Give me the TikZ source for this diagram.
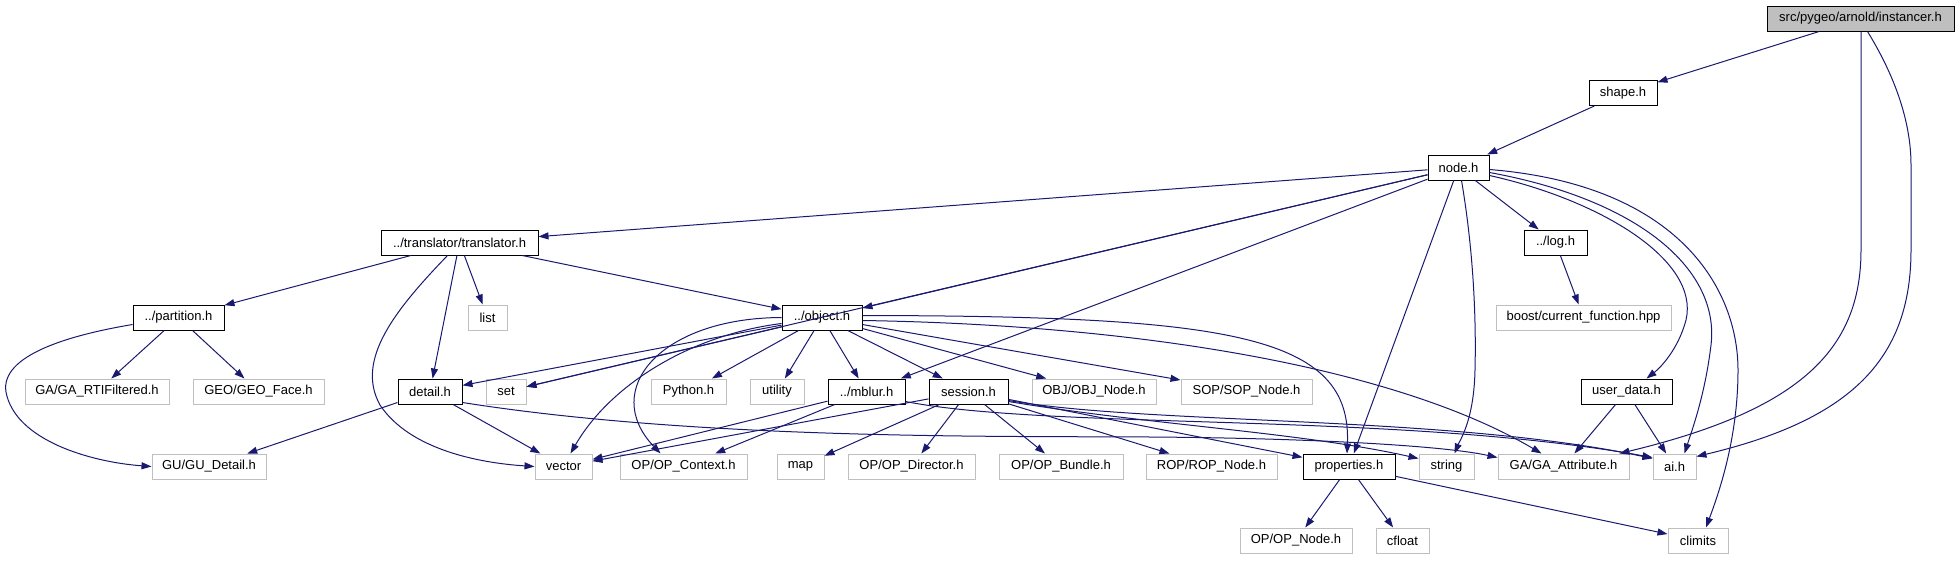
\documentclass[tikz,border=0pt]{standalone}
\usepackage{fontspec}
\setmainfont{Liberation Sans}
\usepackage{xcolor}
\usepackage{tikz}
\usetikzlibrary{arrows.meta}

\definecolor{edgeblue}{HTML}{191970}
\definecolor{sysgray}{HTML}{BFBFBF}

\begin{document}
\begin{tikzpicture}[
    x=1pt, y=-1pt,
    header/.style={rectangle, draw=black, fill=white, line width=1pt, minimum height=25pt, inner sep=0pt, font=\fontsize{13}{15}\selectfont},
    current/.style={header, fill=sysgray},
    system/.style={header, draw=sysgray},
    incl/.style={-{Triangle[length=10pt,width=7pt]}, draw=edgeblue, line width=1pt}
]
    \useasboundingbox (0,0) rectangle (1960,560);

    % Project headers
    \node[current, minimum width=187pt] (inst) at (1860.5,18.5) {src/pygeo/arnold/instancer.h};
    \node[header, minimum width=68pt] (shape) at (1623,93) {shape.h};
    \node[header, minimum width=61pt] (nodeh) at (1458.5,167.5) {node.h};
    \node[header, minimum width=157pt] (trans) at (459.5,242.5) {../translator/translator.h};
    \node[header, minimum width=63pt] (logh) at (1555.5,242.5) {../log.h};
    \node[header, minimum width=91pt] (part) at (178.5,317.5) {../partition.h};
    \node[header, minimum width=80pt] (obj) at (822,317.5) {../object.h};
    \node[header, minimum width=64pt] (detail) at (430,391.5) {detail.h};
    \node[header, minimum width=77pt] (mblur) at (866.5,391.5) {../mblur.h};
    \node[header, minimum width=79pt] (session) at (968.5,391.5) {session.h};
    \node[header, minimum width=91pt] (udata) at (1626.5,391.5) {user\_data.h};
    \node[header, minimum width=92pt] (props) at (1349,466.5) {properties.h};

    % System and library headers
    \node[system, minimum width=39pt] (list) at (487.5,317.5) {list};
    \node[system, minimum width=175pt] (boost) at (1583.5,317.5) {boost/current\_function.hpp};
    \node[system, minimum width=144pt] (rtif) at (97,391.5) {GA/GA\_RTIFiltered.h};
    \node[system, minimum width=131pt] (face) at (258.5,391.5) {GEO/GEO\_Face.h};
    \node[system, minimum width=40pt] (set) at (506,391.5) {set};
    \node[system, minimum width=75pt] (python) at (688.5,391.5) {Python.h};
    \node[system, minimum width=54pt] (utility) at (777,391.5) {utility};
    \node[system, minimum width=124pt] (objnode) at (1094,391.5) {OBJ/OBJ\_Node.h};
    \node[system, minimum width=131pt] (sopnode) at (1246.5,391.5) {SOP/SOP\_Node.h};
    \node[system, minimum width=114pt] (gudetail) at (209,466.5) {GU/GU\_Detail.h};
    \node[system, minimum width=57pt] (vector) at (563.5,466.5) {vector};
    \node[system, minimum width=127pt] (opctx) at (683.5,466.5) {OP/OP\_Context.h};
    \node[system, minimum width=47pt] (map) at (800.5,466.5) {map};
    \node[system, minimum width=127pt] (opdir) at (911.5,466.5) {OP/OP\_Director.h};
    \node[system, minimum width=124pt] (opbundle) at (1061,466.5) {OP/OP\_Bundle.h};
    \node[system, minimum width=131pt] (ropnode) at (1211.5,466.5) {ROP/ROP\_Node.h};
    \node[system, minimum width=55pt] (string) at (1446.5,466.5) {string};
    \node[system, minimum width=131pt] (gaattr) at (1563.5,466.5) {GA/GA\_Attribute.h};
    \node[system, minimum width=43pt] (aih) at (1674.5,466.5) {ai.h};
    \node[system, minimum width=112pt] (opnode) at (1296,540.5) {OP/OP\_Node.h};
    \node[system, minimum width=53pt] (cfloat) at (1402.5,540.5) {cfloat};
    \node[system, minimum width=60pt] (climits) at (1698,540.5) {climits};

    % instancer.h
    \draw[incl] (inst) -- (shape);
    \draw[incl] ([xshift=0.5pt]inst.south) -- (1861,250) .. controls (1861,350) and (1800,410) .. ([xshift=-10pt]gaattr.north east);
    \draw[incl] ([xshift=7pt]inst.south) .. controls (1885,60) and (1911,110) .. (1911,165) -- (1911,250) .. controls (1911,360) and (1850,420) .. ([yshift=-3pt]aih.north east);

    % shape.h and node.h
    \draw[incl] (shape) -- (nodeh);
    \draw[incl] (nodeh) -- (trans);
    \draw[incl] (nodeh) -- (set);
    \draw[incl] (nodeh) -- (obj);
    \draw[incl] (nodeh) -- (mblur);
    \draw[incl] (nodeh) -- (props);
    \draw[incl] (nodeh) -- (logh);
    \draw[incl] ([xshift=3pt]nodeh.south) .. controls (1475,260) and (1476,330) .. (1475,370) .. controls (1474,420) and (1460,440) .. ([xshift=8pt]string.north);
    \draw[incl] ([yshift=-8pt]nodeh.east) .. controls (1600,200) and (1700,260) .. (1686,320) .. controls (1678,350) and (1660,368) .. ([xshift=20pt]udata.north);
    \draw[incl] ([yshift=-5pt]nodeh.east) .. controls (1640,200) and (1720,270) .. (1711,345) .. controls (1705,395) and (1692,430) .. ([xshift=10pt]aih.north);
    \draw[incl] ([yshift=-2pt]nodeh.east) .. controls (1680,185) and (1738,290) .. (1738,370) .. controls (1738,440) and (1718,495) .. ([xshift=8pt]climits.north);
    \draw[incl] (logh) -- (boost);

    % translator.h
    \draw[incl] (trans) -- (part);
    \draw[incl] (trans) -- (list);
    \draw[incl] (trans) -- (detail);
    \draw[incl] (trans) -- (obj);
    \draw[incl] ([xshift=-12pt]trans.south) .. controls (395,310) and (355,360) .. (380,405) .. controls (410,450) and (480,463) .. (vector.west);

    % partition.h
    \draw[incl] (part) -- (rtif);
    \draw[incl] (part) -- (face);
    \draw[incl] ([yshift=-7pt]part.west) .. controls (70,335) and (0,355) .. (6,392) .. controls (15,440) and (90,462) .. (gudetail.west);

    % object.h
    \draw[incl] (obj) -- (detail);
    \draw[incl] (obj) -- (set);
    \draw[incl] ([yshift=-6pt]obj.west) .. controls (690,335) and (610,385) .. ([xshift=7pt]vector.north);
    \draw[incl] (obj.west) .. controls (660,318) and (600,390) .. ([xshift=-23pt]opctx.north);
    \draw[incl] (obj) -- (python);
    \draw[incl] (obj) -- (utility);
    \draw[incl] (obj) -- (mblur);
    \draw[incl] (obj) -- (session);
    \draw[incl] (obj) -- (objnode);
    \draw[incl] (obj) -- (sopnode);
    \draw[incl] ([yshift=2pt]obj.east) .. controls (1230,316) and (1352,335) .. ([xshift=-2pt]props.north);
    \draw[incl] ([yshift=-3pt]obj.east) .. controls (1150,325) and (1400,370) .. ([xshift=-22pt]gaattr.north);

    % detail.h
    \draw[incl] (detail) -- (gudetail);
    \draw[incl] (detail) -- (vector);
    \draw[incl] ([yshift=-11pt]detail.east) .. controls (700,440) and (1000,436) .. (1150,437) .. controls (1300,438) and (1440,445) .. ([yshift=9pt]gaattr.west);

    % mblur.h
    \draw[incl] (mblur) -- (vector);
    \draw[incl] (mblur) -- (opctx);
    \draw[incl] ([yshift=-10pt]mblur.east) .. controls (1050,430) and (1400,412) .. ([yshift=9pt]aih.west);

    % session.h
    \draw[incl] (session) -- (vector);
    \draw[incl] (session) -- (map);
    \draw[incl] (session) -- (opdir);
    \draw[incl] (session) -- (opbundle);
    \draw[incl] (session) -- (ropnode);
    \draw[incl] (session) -- (props);
    \draw[incl] ([yshift=-10pt]session.east) .. controls (1150,425) and (1300,432) .. ([yshift=8pt]string.west);
    \draw[incl] ([yshift=-9pt]session.east) .. controls (1150,425) and (1450,415) .. ([yshift=8pt]aih.west);

    % user_data.h and properties.h
    \draw[incl] (udata) -- (gaattr);
    \draw[incl] (udata) -- (aih);
    \draw[incl] (props) -- (opnode);
    \draw[incl] (props) -- (cfloat);
    \draw[incl] (props) -- (climits);
\end{tikzpicture}
\end{document}
